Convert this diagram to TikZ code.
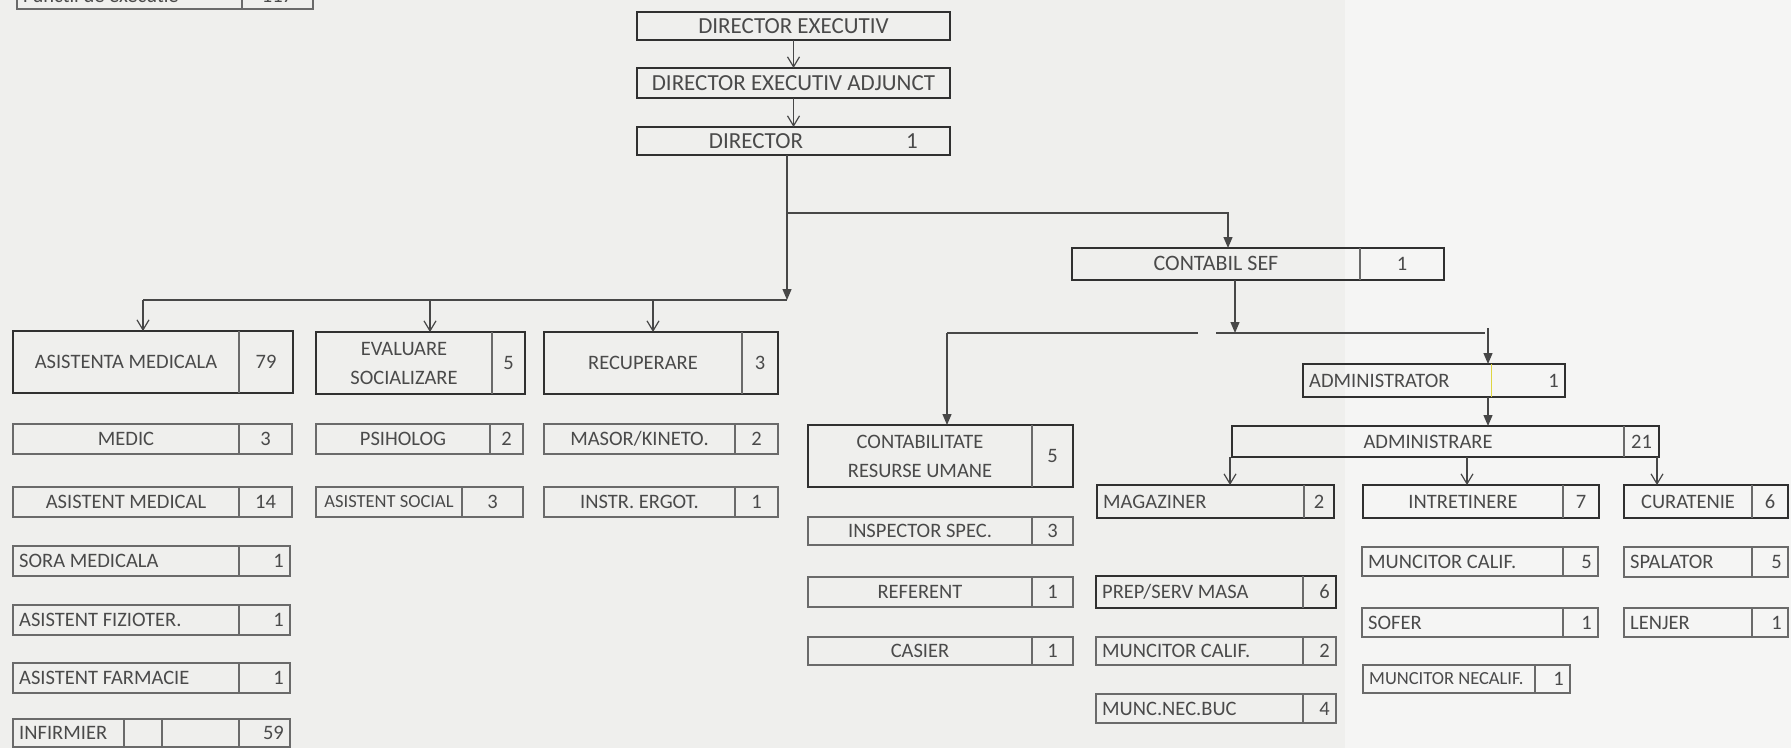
\documentclass[tikz,border=0pt]{standalone}
\usepackage{fontspec}
\setmainfont{Carlito}
\usetikzlibrary{arrows.meta}
\definecolor{paper}{HTML}{EFEFED}
\definecolor{paperlight}{HTML}{F5F5F4}
\definecolor{ink}{HTML}{4A4A4A}
\definecolor{edge}{HTML}{303030}
\definecolor{thin}{HTML}{6A6A6A}
\definecolor{wire}{HTML}{474747}
\newcommand{\obox}[7]{%
  \node[#2, minimum width={(#5-#3)*1pt}, minimum height={(#6-#4)*1pt}] (#1) at ({(#3+#5)/2},{(#4+#6)/2}) {};
  \ifx\relax#7\relax\def\odiv{#5}\else\def\odiv{#7}\draw[divline] (#7,#4) -- (#7,#6);\fi
  \coordinate (#1-L) at ({(#3+\odiv)/2},{(#4+#6)/2});
  \coordinate (#1-N) at ({(\odiv+#5)/2},{(#4+#6)/2});
  \coordinate (#1-Lw) at ({#3+6},{(#4+#6)/2});
  \coordinate (#1-Ne) at ({#5-6},{(#4+#6)/2});
}
\begin{document}
\begin{tikzpicture}[x=1pt,y=-1pt,
  heavy/.style={draw=edge, line width=2.6pt, rectangle, inner sep=0pt, outer sep=0pt},
  medium/.style={draw=edge, line width=1.9pt, rectangle, inner sep=0pt, outer sep=0pt},
  light/.style={draw=thin, line width=1.1pt, rectangle, inner sep=0pt, outer sep=0pt},
  divline/.style={draw=thin, line width=1.1pt},
  lab/.style={text=ink, font=\fontsize{20.5}{28}\selectfont, inner sep=0pt, text height=13.2pt, text depth=0pt},
  big/.style={font=\fontsize{23}{28}\selectfont, text height=14.8pt},
  small/.style={font=\fontsize{18.5}{24}\selectfont, text height=11.9pt},
  lab2/.style={text=ink, font=\fontsize{20.5}{29}\selectfont, inner sep=0pt, align=center},
  wire/.style={draw=wire, line width=1.2pt},
  vee/.style={wire, -{Straight Barb[length=10pt,width=12pt]}},
  fillarrow/.style={wire, -{Triangle[length=11pt,width=9pt]}}]
\useasboundingbox[fill=paper] (0,0) rectangle (1791,748);
\clip (0,0) rectangle (1791,748);
\fill[paperlight] (1345,0) rectangle (1791,748);

% top-left partial table
\obox{tl}{light}{17}{-17}{313}{9}{242}
\node[lab, anchor=west] (tl-l) at (tl-Lw) {Functii de executie};
\node[lab] (tl-n) at (tl-N) {117};

% directors
\obox{dex}{heavy}{637}{12}{950}{40}{}
\node[lab, big] (dex-l) at (dex-L) {DIRECTOR EXECUTIV};
\obox{dexa}{heavy}{637}{68}{950}{98}{}
\node[lab, big] (dexa-l) at (dexa-L) {DIRECTOR EXECUTIV ADJUNCT};
\obox{dir}{heavy}{637}{127}{950}{155}{}
\node[lab, big] (dir-l) at (756,141) {DIRECTOR};
\node[lab, big] (dir-n) at (912,141) {1};

% medical column
\obox{am}{heavy}{13}{331}{293}{393}{239}
\node[lab] (am-l) at (am-L) {ASISTENTA MEDICALA};
\node[lab] (am-n) at (am-N) {79};
\obox{medic}{light}{13}{424}{292}{454}{239}
\node[lab] (medic-l) at (medic-L) {MEDIC};
\node[lab] (medic-n) at (medic-N) {3};
\obox{asm}{light}{13}{487}{292}{517}{239}
\node[lab] (asm-l) at (asm-L) {ASISTENT MEDICAL};
\node[lab] (asm-n) at (asm-N) {14};
\obox{sora}{light}{13}{546}{290}{576}{239}
\node[lab, anchor=west] (sora-l) at (sora-Lw) {SORA MEDICALA};
\node[lab, anchor=east] (sora-n) at (sora-Ne) {1};
\obox{fiz}{light}{13}{605}{290}{635}{239}
\node[lab, anchor=west] (fiz-l) at (fiz-Lw) {ASISTENT FIZIOTER.};
\node[lab, anchor=east] (fiz-n) at (fiz-Ne) {1};
\obox{farm}{light}{13}{663}{290}{693}{239}
\node[lab, anchor=west] (farm-l) at (farm-Lw) {ASISTENT FARMACIE};
\node[lab, anchor=east] (farm-n) at (farm-Ne) {1};
\obox{inf}{light}{13}{719}{290}{747}{239}
\draw[divline] (124,719) -- (124,747);
\draw[divline] (162,719) -- (162,747);
\node[lab, anchor=west] (inf-l) at (inf-Lw) {INFIRMIER};
\node[lab, anchor=east] (inf-n) at (inf-Ne) {59};

% evaluare column
\obox{ev}{heavy}{316}{332}{525}{394}{492}
\node[lab2] (ev-l) at (ev-L) {EVALUARE\\SOCIALIZARE};
\node[lab] (ev-n) at (ev-N) {5};
\obox{psi}{light}{316}{424}{523}{454}{490}
\node[lab] (psi-l) at (psi-L) {PSIHOLOG};
\node[lab] (psi-n) at (psi-N) {2};
\obox{ass}{light}{316}{487}{523}{517}{462}
\node[lab, small] (ass-l) at (ass-L) {ASISTENT SOCIAL};
\node[lab] (ass-n) at (ass-N) {3};

% recuperare column
\obox{rec}{heavy}{544}{332}{778}{394}{742}
\node[lab] (rec-l) at (rec-L) {RECUPERARE};
\node[lab] (rec-n) at (rec-N) {3};
\obox{mas}{light}{544}{424}{778}{454}{735}
\node[lab] (mas-l) at (mas-L) {MASOR/KINETO.};
\node[lab] (mas-n) at (mas-N) {2};
\obox{ins}{light}{544}{487}{778}{517}{735}
\node[lab] (ins-l) at (ins-L) {INSTR. ERGOT.};
\node[lab] (ins-n) at (ins-N) {1};

% contabil
\obox{cs}{heavy}{1072}{248}{1444}{280}{1360}
\node[lab, font=\fontsize{22}{28}\selectfont] (cs-l) at (cs-L) {CONTABIL SEF};
\node[lab] (cs-n) at (cs-N) {1};
\obox{cru}{heavy}{808}{425}{1073}{487}{1032}
\node[lab2] (cru-l) at (cru-L) {CONTABILITATE\\RESURSE UMANE};
\node[lab] (cru-n) at (cru-N) {5};
\obox{insp}{light}{808}{517}{1073}{545}{1032}
\node[lab] (insp-l) at (insp-L) {INSPECTOR SPEC.};
\node[lab] (insp-n) at (insp-N) {3};
\obox{ref}{light}{808}{577}{1073}{607}{1032}
\node[lab] (ref-l) at (ref-L) {REFERENT};
\node[lab] (ref-n) at (ref-N) {1};
\obox{cas}{light}{808}{637}{1073}{665}{1032}
\node[lab] (cas-l) at (cas-L) {CASIER};
\node[lab] (cas-n) at (cas-N) {1};

% magaziner column
\obox{mag}{medium}{1097}{485}{1334}{518}{1304}
\node[lab, anchor=west] (mag-l) at (mag-Lw) {MAGAZINER};
\node[lab] (mag-n) at (mag-N) {2};
\obox{prep}{heavy}{1096}{576}{1336}{608}{1303}
\node[lab, anchor=west] (prep-l) at (prep-Lw) {PREP/SERV MASA};
\node[lab, anchor=east] (prep-n) at (prep-Ne) {6};
\obox{mcb}{light}{1096}{637}{1336}{665}{1303}
\node[lab, anchor=west] (mcb-l) at (mcb-Lw) {MUNCITOR CALIF.};
\node[lab, anchor=east] (mcb-n) at (mcb-Ne) {2};
\obox{mnb}{light}{1096}{694}{1336}{723}{1303}
\node[lab, anchor=west] (mnb-l) at (mnb-Lw) {MUNC.NEC.BUC};
\node[lab, anchor=east] (mnb-n) at (mnb-Ne) {4};

% administrator
\obox{adm}{heavy}{1303}{364}{1565}{397}{}
\draw[draw=yellow!70!gray, line width=1pt] (1491,364) -- (1491,397);
\node[lab, anchor=west] (adm-l) at (adm-Lw) {ADMINISTRATOR};
\node[lab, anchor=east] (adm-n) at (adm-Ne) {1};
\obox{admr}{heavy}{1232}{426}{1659}{457}{1624}
\node[lab] (admr-l) at (admr-L) {ADMINISTRARE};
\node[lab] (admr-n) at (admr-N) {21};

% intretinere column
\obox{intr}{heavy}{1363}{485}{1599}{518}{1563}
\node[lab] (intr-l) at (intr-L) {INTRETINERE};
\node[lab] (intr-n) at (intr-N) {7};
\obox{mcr}{light}{1362}{547}{1598}{576}{1563}
\node[lab, anchor=west] (mcr-l) at (mcr-Lw) {MUNCITOR CALIF.};
\node[lab, anchor=east] (mcr-n) at (mcr-Ne) {5};
\obox{sof}{light}{1362}{608}{1598}{637}{1563}
\node[lab, anchor=west] (sof-l) at (sof-Lw) {SOFER};
\node[lab, anchor=east] (sof-n) at (sof-Ne) {1};
\obox{mnc}{light}{1363}{665}{1570}{693}{1535}
\node[lab, small, anchor=west] (mnc-l) at (mnc-Lw) {MUNCITOR NECALIF.};
\node[lab, anchor=east] (mnc-n) at (mnc-Ne) {1};

% curatenie column
\obox{cur}{heavy}{1624}{485}{1788}{518}{1752}
\node[lab] (cur-l) at (cur-L) {CURATENIE};
\node[lab] (cur-n) at (cur-N) {6};
\obox{spal}{light}{1624}{547}{1788}{577}{1752}
\node[lab, anchor=west] (spal-l) at (spal-Lw) {SPALATOR};
\node[lab, anchor=east] (spal-n) at (spal-Ne) {5};
\obox{len}{light}{1624}{608}{1788}{637}{1752}
\node[lab, anchor=west] (len-l) at (len-Lw) {LENJER};
\node[lab, anchor=east] (len-n) at (len-Ne) {1};

% junction coordinates
\coordinate (jd) at (787,300);
\coordinate (jl) at (143,300);
\coordinate (je) at (430,300);
\coordinate (jr) at (653,300);
\coordinate (ju) at (787,213);
\coordinate (jc) at (1228,213);
\coordinate (kc) at (1235,333);
\coordinate (kl) at (947,333);
\coordinate (kg1) at (1198,333);
\coordinate (kg2) at (1216,333);
\coordinate (kr) at (1485,333);
\coordinate (ka) at (1488,328);
\coordinate (xm) at (1230,470);
\coordinate (xi) at (1467,470);
\coordinate (xc) at (1657,470);

% connectors
\draw[vee] (dex) -- (dexa);
\draw[vee] (dexa) -- (dir);
\draw[fillarrow] (dir.south -| jd) -- (jd);
\draw[wire] (jl) -- (jd);
\draw[vee] (jl) -- (am.north -| jl);
\draw[vee] (je) -- (ev.north -| je);
\draw[vee] (jr) -- (rec.north -| jr);
\draw[fillarrow] (ju) -| (cs.north -| jc);
\draw[fillarrow] (cs.south -| kc) -- (kc);
\draw[wire] (kl) -- (kg1);
\draw[wire] (kg2) -- (kr);
\draw[fillarrow] (kl) -- (cru.north -| kl);
\draw[fillarrow] (ka) -- (adm.north -| ka);
\draw[fillarrow] (adm.south -| ka) -- (admr.north -| ka);
\draw[vee] (admr.south -| xm) -- (mag.north -| xm);
\draw[vee] (admr.south -| xi) -- (intr.north -| xi);
\draw[vee] (admr.south -| xc) -- (cur.north -| xc);
\end{tikzpicture}
\end{document}
